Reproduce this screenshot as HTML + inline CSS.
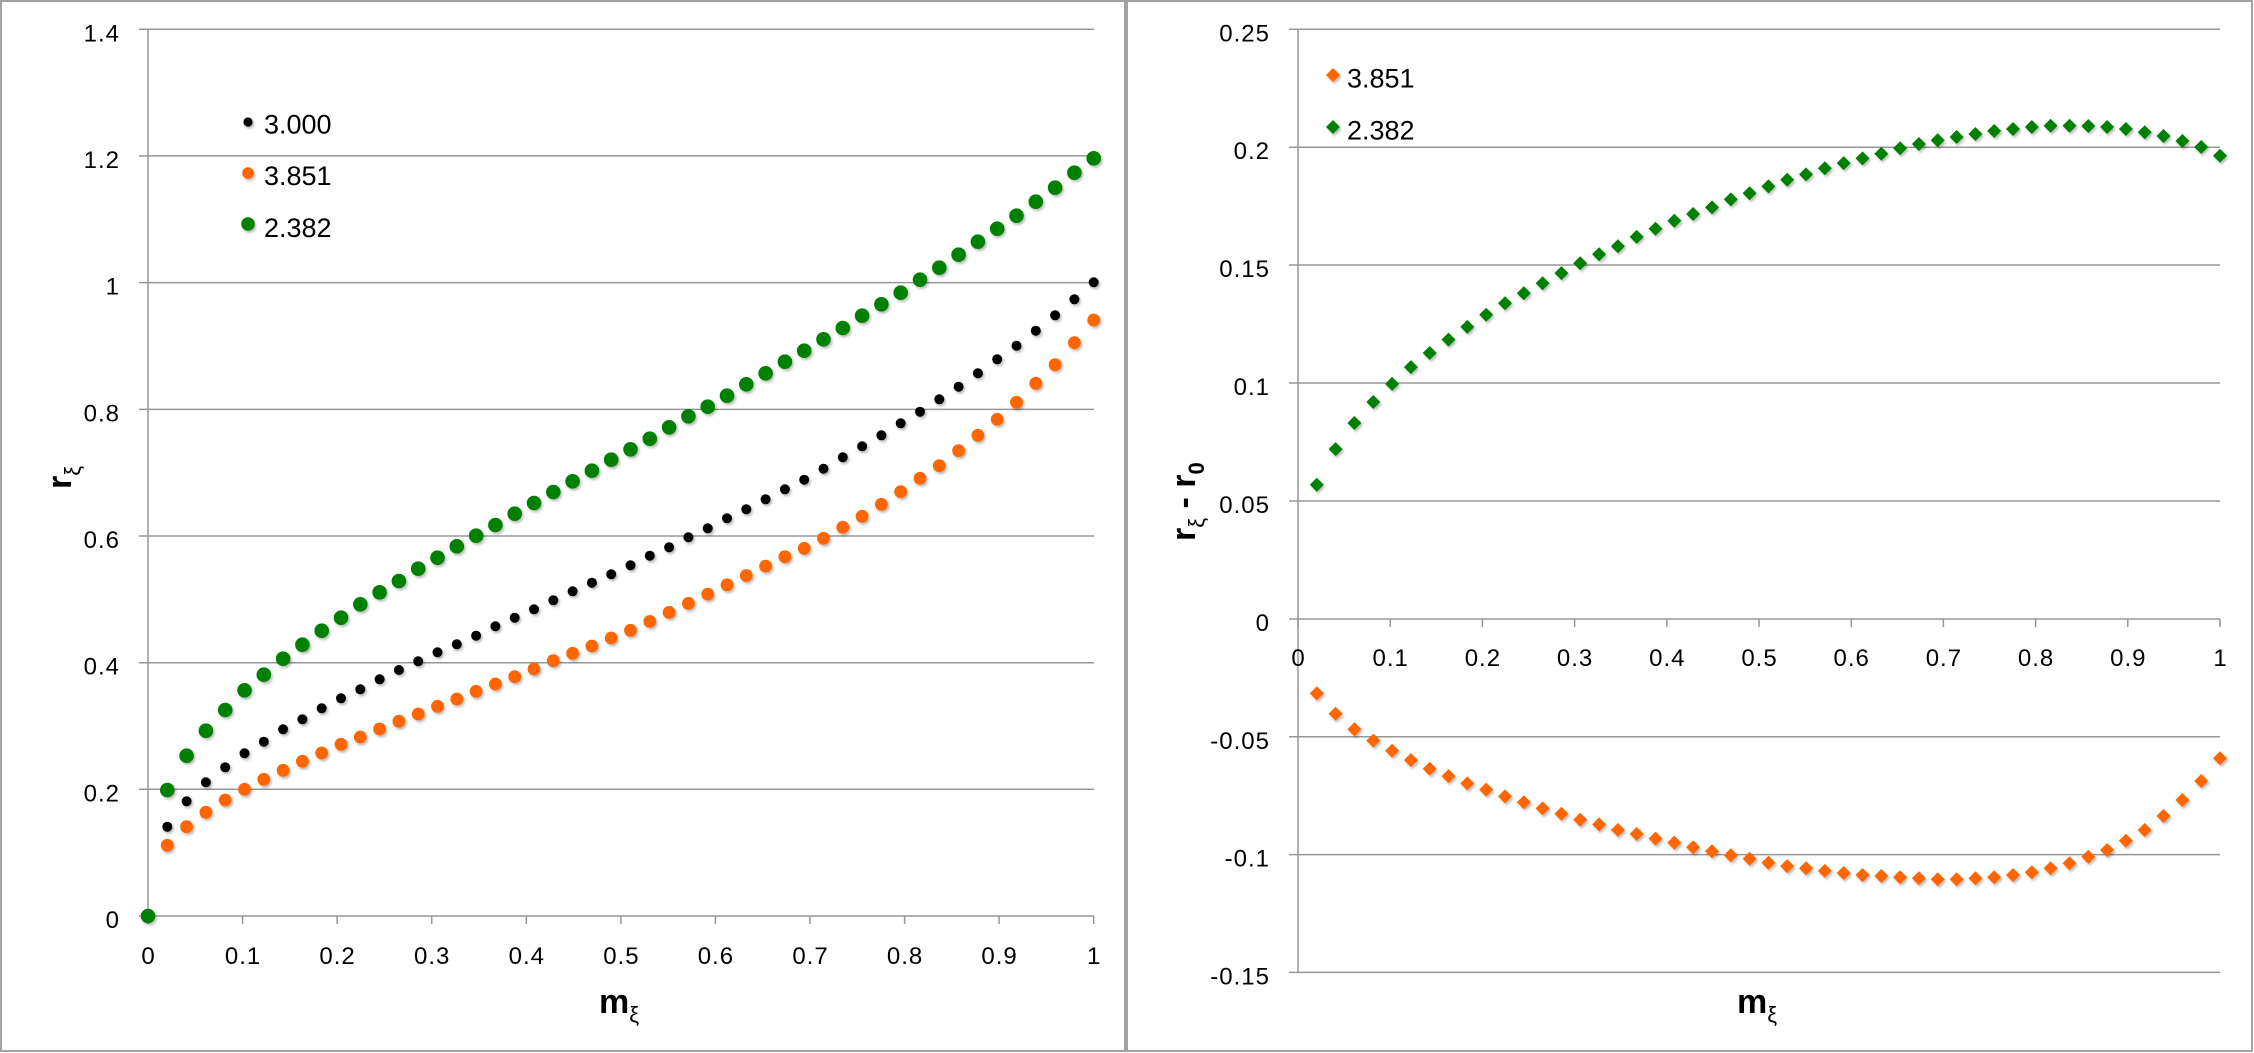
<!DOCTYPE html>
<html>
<head>
<meta charset="utf-8">
<style>
html,body{margin:0;padding:0;background:#fff;}
svg{display:block;}
text{font-family:"Liberation Sans","DejaVu Sans",sans-serif;fill:#000;}
.tk{font-size:24px;letter-spacing:1px;}
.lg{font-size:27px;}
.ttl{font-size:34px;font-weight:bold;}
.sub{font-size:22px;}
.grid line{stroke:#979797;stroke-width:1.5;}
</style>
</head>
<body>
<svg width="2254" height="1053" viewBox="0 0 2254 1053" xmlns="http://www.w3.org/2000/svg">
<defs>
<filter id="sh" x="-10%" y="-10%" width="120%" height="120%">
<feDropShadow dx="1.5" dy="2" stdDeviation="1.4" flood-color="#000" flood-opacity="0.28"/>
</filter>
<marker id="mb" markerUnits="userSpaceOnUse" markerWidth="12" markerHeight="12" refX="6" refY="6" overflow="visible"><circle cx="6" cy="6" r="5" fill="#000"/></marker>
<marker id="mo" markerUnits="userSpaceOnUse" markerWidth="14" markerHeight="14" refX="7" refY="7" overflow="visible"><circle cx="7" cy="7" r="6.4" fill="#ff6600"/></marker>
<marker id="mg" markerUnits="userSpaceOnUse" markerWidth="16" markerHeight="16" refX="8" refY="8" overflow="visible"><circle cx="8" cy="8" r="7.3" fill="#008000"/></marker>
<marker id="do" markerUnits="userSpaceOnUse" markerWidth="16" markerHeight="16" refX="8" refY="8" overflow="visible"><path d="M8 1 15 8 8 15 1 8z" fill="#ff6600"/></marker>
<marker id="dg" markerUnits="userSpaceOnUse" markerWidth="16" markerHeight="16" refX="8" refY="8" overflow="visible"><path d="M8 1 15 8 8 15 1 8z" fill="#008000"/></marker>
</defs>
<rect x="0" y="0" width="2254" height="1053" fill="#fff"/>
<rect x="1" y="1" width="1124" height="1050" fill="none" stroke="#a3a3a3" stroke-width="2"/>
<rect x="1127" y="1" width="1125" height="1050" fill="none" stroke="#a3a3a3" stroke-width="2"/>

<!-- LEFT PANEL -->
<g class="grid">
<line x1="139" y1="29.3" x2="1094" y2="29.3"/>
<line x1="139" y1="155.9" x2="1094" y2="155.9"/>
<line x1="139" y1="282.6" x2="1094" y2="282.6"/>
<line x1="139" y1="409.4" x2="1094" y2="409.4"/>
<line x1="139" y1="536" x2="1094" y2="536"/>
<line x1="139" y1="662.7" x2="1094" y2="662.7"/>
<line x1="139" y1="789.3" x2="1094" y2="789.3"/>
<line x1="139" y1="916" x2="1094" y2="916"/>
<line x1="148" y1="29.3" x2="148" y2="916"/>
<line x1="148" y1="916" x2="148" y2="924"/>
<line x1="242.6" y1="916" x2="242.6" y2="924"/>
<line x1="337.1" y1="916" x2="337.1" y2="924"/>
<line x1="431.7" y1="916" x2="431.7" y2="924"/>
<line x1="526.3" y1="916" x2="526.3" y2="924"/>
<line x1="620.9" y1="916" x2="620.9" y2="924"/>
<line x1="715.4" y1="916" x2="715.4" y2="924"/>
<line x1="810" y1="916" x2="810" y2="924"/>
<line x1="904.6" y1="916" x2="904.6" y2="924"/>
<line x1="999.1" y1="916" x2="999.1" y2="924"/>
<line x1="1093.7" y1="916" x2="1093.7" y2="924"/>
</g>
<g class="tk" text-anchor="end">
<text x="120" y="41.5">1.4</text>
<text x="120" y="168">1.2</text>
<text x="120" y="294.5">1</text>
<text x="120" y="421.5">0.8</text>
<text x="120" y="548">0.6</text>
<text x="120" y="674.7">0.4</text>
<text x="120" y="801.3">0.2</text>
<text x="120" y="928">0</text>
</g>
<g class="tk" text-anchor="middle">
<text x="148.5" y="964">0</text>
<text x="243.1" y="964">0.1</text>
<text x="337.6" y="964">0.2</text>
<text x="432.2" y="964">0.3</text>
<text x="526.8" y="964">0.4</text>
<text x="621.4" y="964">0.5</text>
<text x="715.9" y="964">0.6</text>
<text x="810.5" y="964">0.7</text>
<text x="905.1" y="964">0.8</text>
<text x="999.6" y="964">0.9</text>
<text x="1094.2" y="964">1</text>
</g>
<text class="ttl" x="599" y="1013">m<tspan class="sub" font-weight="normal" dy="9">ξ</tspan></text>
<text class="ttl" transform="translate(71,489) rotate(-90)">r<tspan class="sub" font-weight="normal" dy="9">ξ</tspan></text>

<g filter="url(#sh)">
<circle cx="248" cy="122" r="4.6" fill="#000"/>
<circle cx="248" cy="173" r="5.8" fill="#ff6600"/>
<circle cx="248" cy="224" r="6.8" fill="#008000"/>
</g>
<g class="lg">
<text x="264" y="133.5">3.000</text>
<text x="264" y="185">3.851</text>
<text x="264" y="237">2.382</text>
</g>

<polyline filter="url(#sh)" fill="none" stroke="none" marker-start="url(#mb)" marker-mid="url(#mb)" marker-end="url(#mb)" points="167.3,826.7 186.6,801.3 205.9,782.3 225.2,767.3 244.5,753.3 263.8,741.7 283.1,729.3 302.4,719.3 321.7,708.3 341,698.3 360.3,689.3 379.6,679.3 398.9,670 418.2,661.3 437.5,652.3 456.8,644.3 476.1,635.7 495.4,626.3 514.7,617.7 534,609.3 553.3,600.3 572.6,591.3 591.9,582.7 611.2,574.3 630.5,565.3 649.8,555.7 669.1,547.3 688.4,537.3 707.7,528.3 727,518.3 746.3,509.3 765.6,499.3 784.9,489.3 804.2,479.7 823.5,468.7 842.8,457.3 862.1,446.3 881.4,435.3 900.7,423.3 920,411.7 939.3,399.3 958.6,386.7 977.9,373.3 997.2,359.3 1016.5,345.7 1035.8,330.7 1055.1,315.3 1074.4,299.3 1093.7,282.3"/>

<polyline filter="url(#sh)" fill="none" stroke="none" marker-start="url(#mo)" marker-mid="url(#mo)" marker-end="url(#mo)" points="167.3,845.3 186.6,826.7 205.9,812.3 225.2,800 244.5,789.3 263.8,779.3 283.1,770.3 302.4,761.3 321.7,753 341,744.3 360.3,737 379.6,729 398.9,721.3 418.2,714 437.5,706.3 456.8,699 476.1,691.3 495.4,684 514.7,676.7 534,669 553.3,660.7 572.6,653.3 591.9,646 611.2,638 630.5,630.3 649.8,621.4 669.1,612.4 688.4,603.3 707.7,594.1 727,584.8 746.3,575.5 765.6,566.1 784.9,556.7 804.2,548.3 823.5,538.3 842.8,527.3 862.1,516.3 881.4,504.3 900.7,491.7 920,478.3 939.3,465.7 958.6,450.7 977.9,435.3 997.2,419.3 1016.5,402.3 1035.8,383.3 1055.1,364.7 1074.4,342.7 1093.7,320"/>

<polyline filter="url(#sh)" fill="none" stroke="none" marker-start="url(#mg)" marker-mid="url(#mg)" marker-end="url(#mg)" points="148,916 167.3,790 186.6,755.7 205.9,730.7 225.2,710 244.5,690.3 263.8,674.7 283.1,658.7 302.4,644.7 321.7,630.7 341,617.7 360.3,604.3 379.6,592.3 398.9,581 418.2,568.7 437.5,557.7 456.8,546.3 476.1,535.7 495.4,525 514.7,513.7 534,503 553.3,492 572.6,481.3 591.9,470.7 611.2,459.7 630.5,449.3 649.8,438.7 669.1,427.3 688.4,416.3 707.7,406.7 727,395.7 746.3,384.3 765.6,373.3 784.9,361.7 804.2,350.7 823.5,339.3 842.8,328 862.1,315.7 881.4,304.3 900.7,292.7 920,279.7 939.3,267.7 958.6,254.7 977.9,241.7 997.2,228.7 1016.5,215.7 1035.8,201.7 1055.1,187.7 1074.4,172.7 1093.7,158.3"/>

<!-- RIGHT PANEL -->
<g class="grid">
<line x1="1289" y1="29.3" x2="2220" y2="29.3"/>
<line x1="1289" y1="147.2" x2="2220" y2="147.2"/>
<line x1="1289" y1="265" x2="2220" y2="265"/>
<line x1="1289" y1="383" x2="2220" y2="383"/>
<line x1="1289" y1="501" x2="2220" y2="501"/>
<line x1="1289" y1="619" x2="2220" y2="619"/>
<line x1="1289" y1="736.8" x2="2220" y2="736.8"/>
<line x1="1289" y1="854.6" x2="2220" y2="854.6"/>
<line x1="1289" y1="972.4" x2="2220" y2="972.4"/>
<line x1="1298" y1="29.3" x2="1298" y2="972.4"/>
<line x1="1298" y1="619" x2="1298" y2="627"/>
<line x1="1390.2" y1="619" x2="1390.2" y2="627"/>
<line x1="1482.4" y1="619" x2="1482.4" y2="627"/>
<line x1="1574.6" y1="619" x2="1574.6" y2="627"/>
<line x1="1666.8" y1="619" x2="1666.8" y2="627"/>
<line x1="1759" y1="619" x2="1759" y2="627"/>
<line x1="1851.2" y1="619" x2="1851.2" y2="627"/>
<line x1="1943.4" y1="619" x2="1943.4" y2="627"/>
<line x1="2035.6" y1="619" x2="2035.6" y2="627"/>
<line x1="2127.8" y1="619" x2="2127.8" y2="627"/>
<line x1="2220" y1="619" x2="2220" y2="627"/>
</g>
<g class="tk" text-anchor="end">
<text x="1270" y="41.5">0.25</text>
<text x="1270" y="159">0.2</text>
<text x="1270" y="277">0.15</text>
<text x="1270" y="395">0.1</text>
<text x="1270" y="513">0.05</text>
<text x="1270" y="631">0</text>
<text x="1270" y="749">-0.05</text>
<text x="1270" y="866.6">-0.1</text>
<text x="1270" y="984.4">-0.15</text>
</g>
<g class="tk" text-anchor="middle">
<text x="1298.5" y="666">0</text>
<text x="1390.7" y="666">0.1</text>
<text x="1482.9" y="666">0.2</text>
<text x="1575.1" y="666">0.3</text>
<text x="1667.3" y="666">0.4</text>
<text x="1759.5" y="666">0.5</text>
<text x="1851.7" y="666">0.6</text>
<text x="1943.9" y="666">0.7</text>
<text x="2036.1" y="666">0.8</text>
<text x="2128.3" y="666">0.9</text>
<text x="2220.5" y="666">1</text>
</g>
<text class="ttl" x="1737" y="1013">m<tspan class="sub" font-weight="normal" dy="9">ξ</tspan></text>
<text class="ttl" transform="translate(1195,541) rotate(-90)">r<tspan class="sub" font-weight="normal" dy="9">ξ</tspan><tspan dy="-9"> - r</tspan><tspan class="sub" dy="9">0</tspan></text>

<g filter="url(#sh)">
<path d="M1333 68 1340 75 1333 82 1326 75z" fill="#ff6600"/>
<path d="M1333 120 1340 127 1333 134 1326 127z" fill="#008000"/>
</g>
<g class="lg">
<text x="1347" y="87.3">3.851</text>
<text x="1347" y="139.3">2.382</text>
</g>

<polyline filter="url(#sh)" fill="none" stroke="none" marker-start="url(#do)" marker-mid="url(#do)" marker-end="url(#do)" points="1316.8,693.4 1335.6,713.7 1354.4,729.3 1373.3,740.6 1392.1,750.7 1410.9,760.1 1429.7,768.8 1448.5,776.1 1467.3,783.4 1486.2,789.6 1505,796.4 1523.8,802.3 1542.6,808.4 1561.4,813.8 1580.2,819.7 1599.1,824.4 1617.9,829.9 1636.7,833.9 1655.5,838.6 1674.3,842.6 1693.1,847.3 1712,851.3 1730.8,855.3 1749.6,858.8 1768.4,862.8 1787.2,866.1 1806,868.3 1824.8,870.9 1843.7,873 1862.5,875 1881.3,876 1900.1,877.3 1918.9,878.3 1937.7,879.3 1956.6,879.3 1975.4,878.3 1994.2,877.3 2013,875 2031.8,872.3 2050.6,868.3 2069.5,863.3 2088.3,856.7 2107.1,850 2125.9,840.7 2144.7,830 2163.5,816 2182.4,800 2201.2,781 2220,758.3"/>

<polyline filter="url(#sh)" fill="none" stroke="none" marker-start="url(#dg)" marker-mid="url(#dg)" marker-end="url(#dg)" points="1316.8,484.7 1335.6,449.1 1354.4,423 1373.3,402 1392.1,383.9 1410.9,367.1 1429.7,353 1448.5,339.6 1467.3,326.9 1486.2,314.8 1505,303.3 1523.8,293.2 1542.6,283.3 1561.4,273.1 1580.2,263.2 1599.1,254.3 1617.9,246.3 1636.7,236.9 1655.5,228.8 1674.3,220.8 1693.1,214 1712,207.4 1730.8,199.4 1749.6,193.3 1768.4,186.4 1787.2,179.8 1806,174.4 1824.8,168.3 1843.7,163.1 1862.5,158.4 1881.3,153.7 1900.1,148.3 1918.9,144 1937.7,140.3 1956.6,137 1975.4,134 1994.2,131 2013,129 2031.8,127 2050.6,125.7 2069.5,125.7 2088.3,126 2107.1,127 2125.9,129 2144.7,132.3 2163.5,136 2182.4,141 2201.2,147 2220,155.7"/>
</svg>
</body>
</html>
